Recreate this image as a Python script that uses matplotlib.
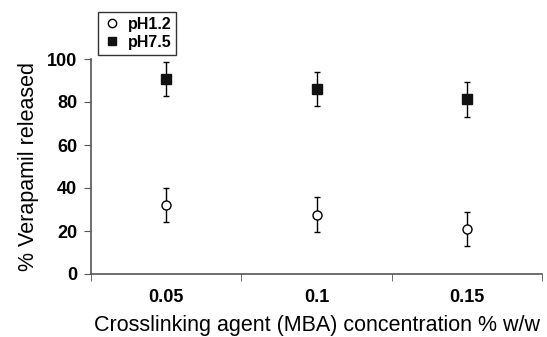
import matplotlib
matplotlib.use("Agg")
import matplotlib.pyplot as plt
import numpy as np

plt.rcParams['font.family'] = ['Liberation Sans', 'DejaVu Sans']

categories = ['0.05', '0.1', '0.15']
ph12 = [32.1, 27.6, 20.9]
ph12_err = [8.0, 8.0, 8.0]
ph75 = [90.6, 86.0, 81.2]
ph75_err = [8.0, 8.0, 8.0]
yticks = [0, 20, 40, 60, 80, 100]

fig = plt.figure(figsize=(5.47, 3.37), dpi=100)
W, H = 547, 337
ax = fig.add_axes([91 / W, 1 - 274 / H, (542 - 91) / W, (274 - 59) / H])

x = np.arange(len(categories))
ax.errorbar(x, ph12, yerr=ph12_err, fmt='o', mfc='white', mec='black', mew=1.0,
            ms=6.5, ecolor='black', elinewidth=1.0, capsize=2.5, capthick=1.0,
            label='pH1.2', zorder=3)
ax.errorbar(x, ph75, yerr=ph75_err, fmt='s', mfc='#111111', mec='#111111',
            ms=6.5, ecolor='black', elinewidth=1.0, capsize=2.5, capthick=1.0,
            label='pH7.5', zorder=3)

ax.set_xlim(-0.5, len(categories) - 0.5)
ax.set_ylim(0, 100)
ax.set_yticks(yticks)
ax.set_yticklabels([str(v) for v in yticks], fontweight='bold', fontsize=13)
ax.set_xticks(x)
ax.set_xticklabels(categories, fontweight='bold', fontsize=13)
ax.tick_params(axis='x', which='major', length=0, pad=11)
ax.set_xticks(np.arange(-0.5, len(categories)), minor=True)
ax.tick_params(axis='x', which='minor', length=5, direction='out', color='#555555')
ax.tick_params(axis='y', length=5, direction='out', color='#555555', pad=5)

for s in ['top', 'right']:
    ax.spines[s].set_visible(False)
for s in ['left', 'bottom']:
    ax.spines[s].set_color('#555555')
    ax.spines[s].set_linewidth(1.2)

ax.set_ylabel('% Verapamil released', fontsize=15.5, labelpad=6)
ax.set_xlabel('Crosslinking agent (MBA) concentration % w/w', fontsize=15.5, labelpad=6)

leg_handles = [
    plt.Line2D([], [], marker='o', ls='none', mfc='white', mec='black', ms=6),
    plt.Line2D([], [], marker='s', ls='none', mfc='#111111', mec='#111111', ms=6),
]
leg = fig.legend(leg_handles, ['pH1.2', 'pH7.5'], loc='upper left',
                 bbox_to_anchor=(98 / W, 1 - 12 / H), frameon=True, fancybox=False,
                 edgecolor='black', prop={'weight': 'bold', 'size': 11.5},
                 handlelength=1.1, handletextpad=0.45, borderpad=0.3, labelspacing=0.2,
                 borderaxespad=0)
leg.get_frame().set_linewidth(1.0)

fig.savefig('out.png', dpi=100)
